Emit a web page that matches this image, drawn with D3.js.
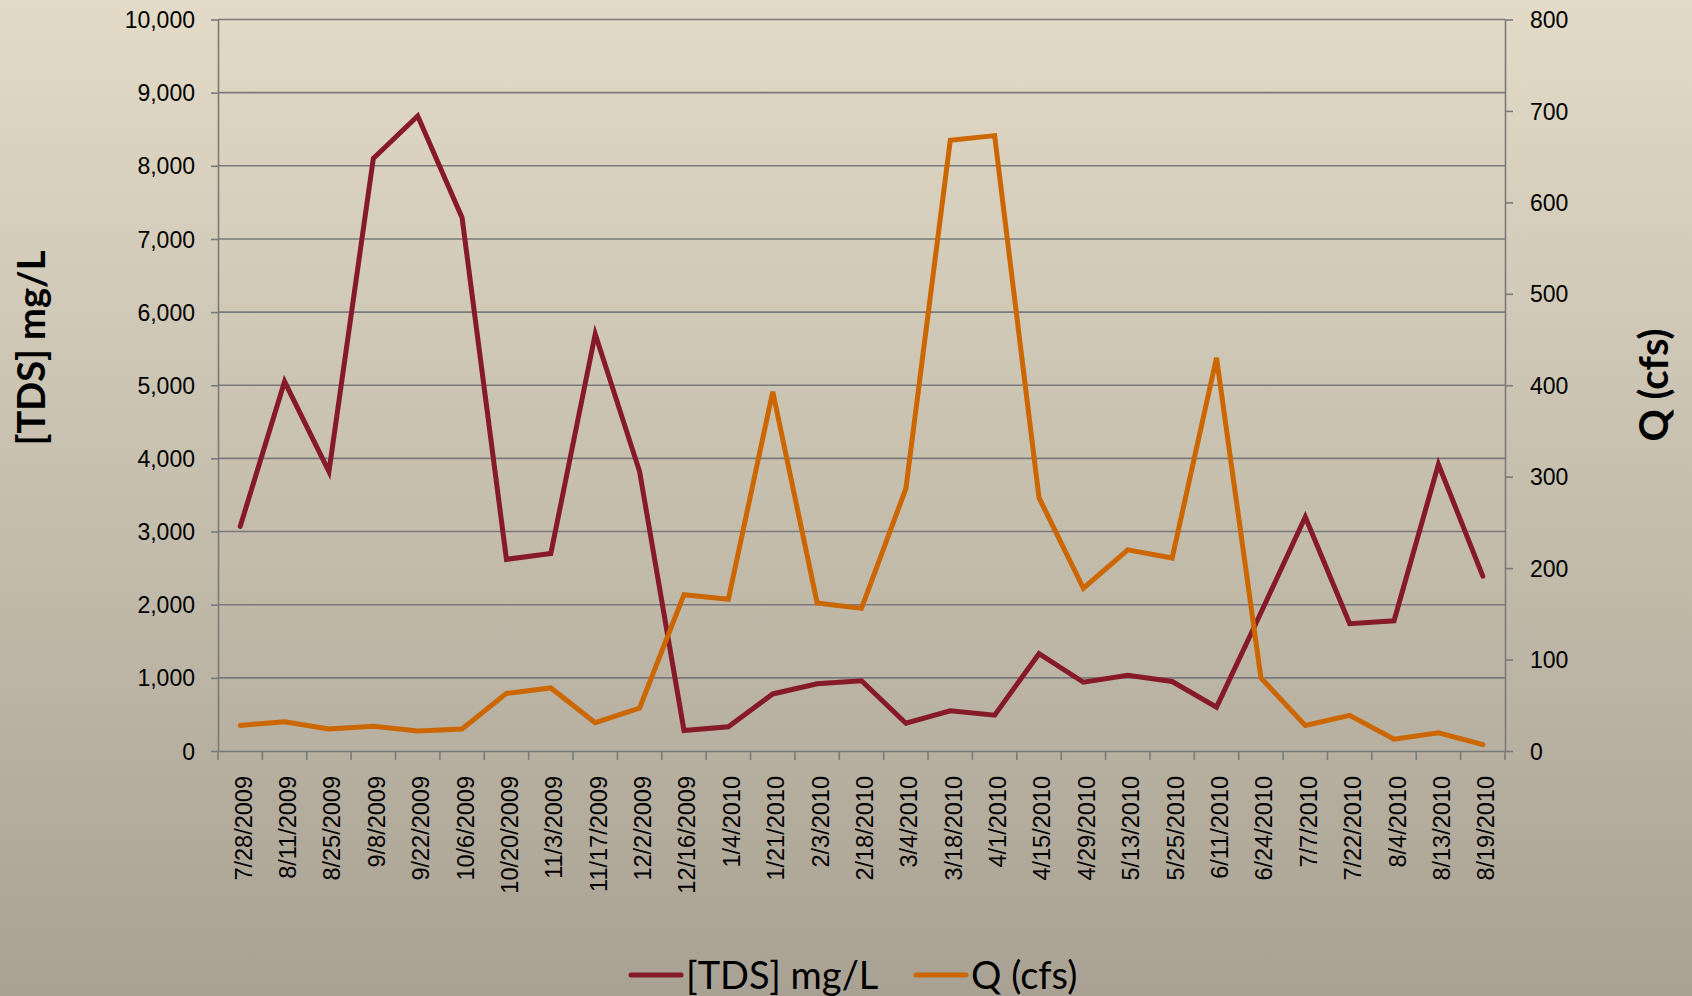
<!DOCTYPE html>
<html>
<head>
<meta charset="utf-8">
<script src="https://cdn.jsdelivr.net/npm/d3@7"></script>
<style>
  html, body { margin: 0; padding: 0; }
  body { width: 1692px; height: 996px; overflow: hidden; }
  svg { display: block; font-family: Lato, "Noto Sans", sans-serif; }
</style>
</head>
<body>
<svg id="chart" width="1692" height="996"></svg>
<script>
// Sampling dates (category axis)
const dates = [
  "7/28/2009", "8/11/2009", "8/25/2009", "9/8/2009", "9/22/2009", "10/6/2009",
  "10/20/2009", "11/3/2009", "11/17/2009", "12/2/2009", "12/16/2009", "1/4/2010",
  "1/21/2010", "2/3/2010", "2/18/2010", "3/4/2010", "3/18/2010", "4/1/2010",
  "4/15/2010", "4/29/2010", "5/13/2010", "5/25/2010", "6/11/2010", "6/24/2010",
  "7/7/2010", "7/22/2010", "8/4/2010", "8/13/2010", "8/19/2010"
];

// Total dissolved solids, mg/L (left axis)
const tds = [
  3070, 5050, 3820, 8100, 8680, 7290,
  2620, 2700, 5700, 3820, 280, 330,
  780, 920, 960, 380, 550, 490,
  1330, 940, 1035, 950, 600, 1890,
  3200, 1740, 1780, 3920, 2390
];

// Discharge, cfs (right axis)
const flow = [
  28, 32, 24, 27, 22, 24,
  63, 69, 31, 47, 171, 166,
  393, 162, 156, 287, 668, 673,
  277, 178, 220, 211, 430, 80,
  28, 39, 13, 20, 7
];

// Axis ticks
const leftTicks = [0, 1000, 2000, 3000, 4000, 5000, 6000, 7000, 8000, 9000, 10000];
const rightTicks = [0, 100, 200, 300, 400, 500, 600, 700, 800];

const seriesNames = ["[TDS] mg/L", "Q (cfs)"];
const colors = { tds: "#861a28", flow: "#cc6600" };

const svg = d3.select("#chart");

// Background gradient
const defs = svg.append("defs");
const grad = defs.append("linearGradient")
  .attr("id", "bg").attr("x1", 0).attr("y1", 0).attr("x2", 0).attr("y2", 1);
grad.append("stop").attr("offset", "0%").attr("stop-color", "#e3dbc7");
grad.append("stop").attr("offset", "100%").attr("stop-color", "#a9a294");
svg.append("rect").attr("width", 1692).attr("height", 996).attr("fill", "url(#bg)");

const plot = { left: 218, right: 1505, top: 19.5, bottom: 751 };

const x = d3.scaleBand().domain(dates).range([plot.left, plot.right]).padding(0);
const yL = d3.scaleLinear().domain([0, 10000]).range([plot.bottom, plot.top]);
const yR = d3.scaleLinear().domain([0, 800]).range([plot.bottom, plot.top]);

const axisColor = "#7a7a7a";

// Horizontal gridlines
svg.append("g").selectAll("line").data(leftTicks.slice(1)).join("line")
  .attr("x1", plot.left).attr("x2", plot.right)
  .attr("y1", d => yL(d)).attr("y2", d => yL(d))
  .attr("stroke", axisColor).attr("stroke-width", 1.6);

// Left axis
const gL = svg.append("g").attr("transform", `translate(${plot.left},0)`)
  .call(d3.axisLeft(yL).tickValues(leftTicks).tickFormat(d3.format(",")).tickSize(7).tickSizeOuter(0).tickPadding(16));
// Right axis
const gR = svg.append("g").attr("transform", `translate(${plot.right},0)`)
  .call(d3.axisRight(yR).tickValues(rightTicks).tickSize(8).tickSizeOuter(0).tickPadding(17));

[gL, gR].forEach(g => {
  g.select(".domain").attr("stroke", axisColor).attr("stroke-width", 1.6);
  g.selectAll(".tick line").attr("stroke", axisColor).attr("stroke-width", 1.6);
  g.selectAll(".tick text").attr("fill", "#000").style("font-size", "23px").attr("dy", "0.35em");
});

// Bottom axis: labels centred on each category, tick marks on category boundaries
const gB = svg.append("g").attr("transform", `translate(0,${plot.bottom})`)
  .call(d3.axisBottom(x).tickSize(0).tickSizeOuter(0));
gB.select(".domain").attr("stroke", axisColor).attr("stroke-width", 1.6);
gB.selectAll(".tick text")
  .attr("fill", "#000").style("font-size", "23.5px")
  .attr("x", 0).attr("y", 0).attr("dy", "0.36em")
  .attr("text-anchor", "end")
  .attr("transform", "translate(3,25) rotate(-90)");
const bounds = dates.map(d => x(d)).concat([x(dates[dates.length - 1]) + x.bandwidth()]);
gB.append("g").selectAll("line").data(bounds).join("line")
  .attr("x1", d => d).attr("x2", d => d).attr("y1", 0).attr("y2", 9)
  .attr("stroke", axisColor).attr("stroke-width", 1.6);

// Data lines
const cx = d => x(d) + x.bandwidth() / 2;
const lineL = d3.line().x((d, i) => cx(dates[i])).y(d => yL(d));
const lineR = d3.line().x((d, i) => cx(dates[i])).y(d => yR(d));

svg.append("path").datum(tds).attr("d", lineL)
  .attr("fill", "none").attr("stroke", colors.tds).attr("stroke-width", 5)
  .attr("stroke-linejoin", "miter").attr("stroke-linecap", "round");
svg.append("path").datum(flow).attr("d", lineR)
  .attr("fill", "none").attr("stroke", colors.flow).attr("stroke-width", 5)
  .attr("stroke-linejoin", "miter").attr("stroke-linecap", "round");

// Axis titles
svg.append("text")
  .attr("transform", "translate(45,348) rotate(-90)")
  .attr("text-anchor", "middle")
  .style("font-size", "38px").style("font-weight", "bold").attr("fill", "#000")
  .text("[TDS] mg/L");
svg.append("text")
  .attr("transform", "translate(1668,385) rotate(-90)")
  .attr("text-anchor", "middle")
  .style("font-size", "40px").style("font-weight", "bold").attr("fill", "#000")
  .text("Q (cfs)");

// Legend
const legendItems = [
  { name: seriesNames[0], color: colors.tds, x: 631 },
  { name: seriesNames[1], color: colors.flow, x: 916 }
];
const lg = svg.append("g").attr("transform", "translate(0,975)");
const li = lg.selectAll("g").data(legendItems).join("g")
  .attr("transform", d => `translate(${d.x},0)`);
li.append("line").attr("x1", 0).attr("x2", 50).attr("y1", 0).attr("y2", 0)
  .attr("stroke", d => d.color).attr("stroke-width", 5).attr("stroke-linecap", "round");
li.append("text").attr("x", 55).attr("y", 0).attr("dy", "0.36em")
  .style("font-size", "38px").attr("fill", "#000")
  .text(d => d.name);
</script>
</body>
</html>
